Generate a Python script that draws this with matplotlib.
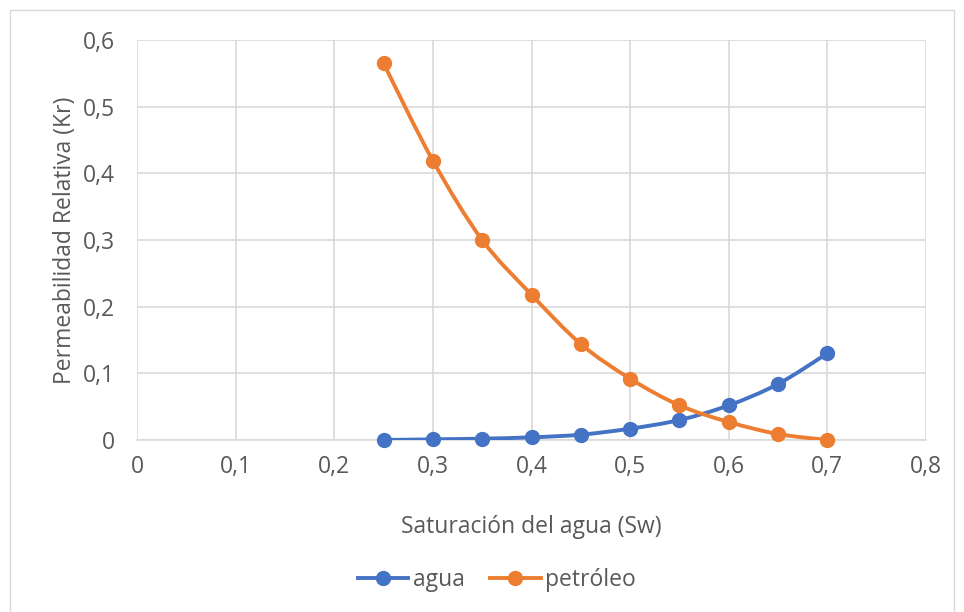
import matplotlib
matplotlib.use("Agg")
import matplotlib.pyplot as plt
from matplotlib.path import Path
from matplotlib.patches import PathPatch, Rectangle
from matplotlib.lines import Line2D
from matplotlib.ticker import FuncFormatter

sw = [0.25, 0.30, 0.35, 0.40, 0.45, 0.50, 0.55, 0.60, 0.65, 0.70]
kr_agua = [0.000, 0.001, 0.002, 0.004, 0.008, 0.017, 0.030, 0.052, 0.084, 0.130]
kr_petroleo = [0.565, 0.419, 0.300, 0.218, 0.144, 0.092, 0.052, 0.027, 0.009, 0.000]
x_ticks = [0, 0.1, 0.2, 0.3, 0.4, 0.5, 0.6, 0.7, 0.8]
y_ticks = [0, 0.1, 0.2, 0.3, 0.4, 0.5, 0.6]

plt.rcParams["font.family"] = ["Open Sans", "DejaVu Sans"]
text_col = "#595959"
grid_col = "#d9d9d9"
fs = 16.5


def smooth_path(xs, ys, t=1 / 6):
    # Excel-style smoothed line drawn as cubic bezier segments
    verts = [(xs[0], ys[0])]
    codes = [Path.MOVETO]
    n = len(xs)
    for i in range(n - 1):
        x0, y0 = xs[max(i - 1, 0)], ys[max(i - 1, 0)]
        x1, y1 = xs[i], ys[i]
        x2, y2 = xs[i + 1], ys[i + 1]
        x3, y3 = xs[min(i + 2, n - 1)], ys[min(i + 2, n - 1)]
        c1 = (x1 + (x2 - x0) * t, y1 + (y2 - y0) * t)
        c2 = (x2 - (x3 - x1) * t, y2 - (y3 - y1) * t)
        verts += [c1, c2, (x2, y2)]
        codes += [Path.CURVE4] * 3
    return Path(verts, codes)


fig = plt.figure(figsize=(9.64, 6.12), dpi=100)
ax = fig.add_axes([137 / 964, 1 - 440 / 612, (926 - 137) / 964, 400 / 612])

fig.patches.append(Rectangle((10 / 964, -0.05), 944 / 964, 1.05 - 10 / 612,
                             transform=fig.transFigure, fill=False,
                             edgecolor="#d9d9d9", linewidth=1))

series = [("agua", kr_agua, "#4472c4"), ("petróleo", kr_petroleo, "#ed7d31")]
handles = []
for name, ys, color in series:
    ax.add_patch(PathPatch(smooth_path(sw, ys), facecolor="none", edgecolor=color,
                           linewidth=2.8, zorder=3, capstyle="round"))
    ax.plot(sw, ys, linestyle="none", marker="o", markersize=10,
            color=color, zorder=4, clip_on=False)
    handles.append(Line2D([], [], color=color, linewidth=2.8, marker="o",
                          markersize=10, label=name))

ax.set_xlim(0, 0.8)
ax.set_ylim(0, 0.6)
ax.set_xticks(x_ticks)
ax.set_yticks(y_ticks)
fmt = FuncFormatter(lambda v, p: ("%g" % round(v, 2)).replace(".", ","))
ax.xaxis.set_major_formatter(fmt)
ax.yaxis.set_major_formatter(fmt)
ax.grid(True, color=grid_col, linewidth=1.2)
ax.set_axisbelow(True)
for s in ["top", "right", "left"]:
    ax.spines[s].set_visible(False)
ax.spines["bottom"].set_color(grid_col)
ax.spines["bottom"].set_linewidth(1.2)
ax.tick_params(length=0, labelsize=fs, colors=text_col)
ax.tick_params(axis="x", pad=11)
ax.tick_params(axis="y", pad=16)

ax.set_xlabel("Saturación del agua (Sw)", fontsize=fs, color=text_col, labelpad=26)
ax.set_ylabel("Permeabilidad Relativa (Kr)", fontsize=fs, color=text_col, labelpad=4)

fig.legend(handles=handles, loc="center", bbox_to_anchor=(497 / 964, 1 - 580 / 612),
           ncol=2, frameon=False, fontsize=fs, labelcolor=text_col,
           handlelength=2.2, handletextpad=0.2, columnspacing=1.1)

fig.savefig("out.png", dpi=100)
